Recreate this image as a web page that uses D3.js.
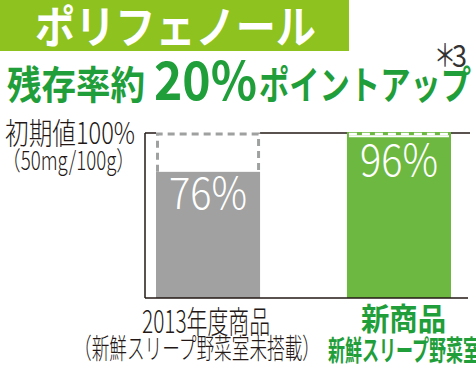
<!DOCTYPE html>
<html>
<head>
<meta charset="utf-8">
<script src="https://cdn.jsdelivr.net/npm/d3@7"></script>
<style>
  body { margin: 0; background: #fff; }
  svg { display: block; }
  text { font-family: "Noto Sans CJK JP", "Noto Sans", sans-serif; }
</style>
</head>
<body>
<svg id="canvas" width="476" height="365"></svg>
<script>
let categories = ['2013年度商品', '新商品'];
let subLabels = ['（新鮮スリープ野菜室未搭載）', '新鮮スリープ野菜室'];
let values = [76, 96];
let initialValue = 100;
let valueLabels = ['76%', '96%'];

let green = '#8dc21f';
let textGreen = '#1f9e3a';
let barColors = ['#a0a1a0', '#6cb840'];

let canvas = d3.select('#canvas');

let yScale = d3.scaleLinear().domain([0, 100]).range([298, 132]);
let xScale = d3.scaleBand().domain(categories).range([156, 451]).paddingInner(0.455).paddingOuter(0);

let addText = (str, x, y, size, weight, fill, len, family) => {
	let t = canvas.append('text')
		.text(str)
		.attr('x', x).attr('y', y)
		.attr('font-size', size)
		.attr('font-weight', weight)
		.attr('fill', fill)
		.attr('textLength', len)
		.attr('lengthAdjust', 'spacingAndGlyphs');
	if (family) t.attr('font-family', family);
	return t;
};

// title box
canvas.append('rect')
	.attr('x', 0).attr('y', 0)
	.attr('width', 349).attr('height', 51)
	.attr('fill', green);

addText('ポリフェノール', 35, 44, 45, 'bold', '#fff', 281);

// subtitle
addText('残存率約', 7, 99, 39, 'bold', textGreen, 138);
addText('20%', 154, 100, 53, 'bold', textGreen, 103, '"Noto Sans", sans-serif');
addText('ポイントアップ', 259, 99, 39, 'bold', textGreen, 212);
addText('＊', 434, 66, 31, 'normal', '#333', 22);
addText('3', 452, 67, 30, 'normal', '#333', 15, '"Noto Sans", sans-serif');

// y label
addText('初期値100%', 5, 144, 30, 300, '#231815', 130);
addText('（50mg/100g）', 2, 170, 26, 300, '#231815', 133);

// bars
canvas.selectAll('.bar')
	.data(values)
	.enter()
	.append('rect')
	.attr('class', 'bar')
	.attr('x', (v, i) => xScale(categories[i]))
	.attr('y', (v, i) => i === 1 ? yScale(initialValue) : yScale(v))
	.attr('width', xScale.bandwidth())
	.attr('height', (v, i) => yScale(0) - (i === 1 ? yScale(initialValue) : yScale(v)))
	.attr('fill', (v, i) => barColors[i]);

// axes
let axisX0 = 145;
let axisX1 = 470;
let topY = yScale(initialValue) + 1;
canvas.append('line')
	.attr('x1', axisX0).attr('x2', axisX0)
	.attr('y1', topY).attr('y2', yScale(0))
	.attr('stroke', '#231815').attr('stroke-width', 1.5);
canvas.append('line')
	.attr('x1', axisX0).attr('x2', 468)
	.attr('y1', yScale(0)).attr('y2', yScale(0))
	.attr('stroke', '#231815').attr('stroke-width', 1.5);

let topSegments = [
	[axisX0, xScale(categories[0])],
	[xScale(categories[0]) + xScale.bandwidth(), xScale(categories[1])],
	[xScale(categories[1]) + xScale.bandwidth(), axisX1]
];
canvas.selectAll('.topline')
	.data(topSegments)
	.enter()
	.append('line')
	.attr('x1', (s) => s[0]).attr('x2', (s) => s[1])
	.attr('y1', topY).attr('y2', topY)
	.attr('stroke', '#231815').attr('stroke-width', 1.5);

// 100% dashed outline, old product
let bx = xScale(categories[0]);
let bw = xScale.bandwidth();
canvas.append('path')
	.attr('d', 'M' + (bx + 1.5) + ',' + yScale(values[0]) + 'V' + (topY + 1) + 'H' + (bx + bw - 1.5) + 'V' + yScale(values[0]))
	.attr('fill', 'none')
	.attr('stroke', '#9fa0a0')
	.attr('stroke-width', 3)
	.attr('stroke-dasharray', '7,5');

// 100% dashed outline, new product
let gx = xScale(categories[1]);
canvas.append('line')
	.attr('x1', gx + 2).attr('x2', gx + bw - 2)
	.attr('y1', topY + 1).attr('y2', topY + 1)
	.attr('stroke', '#fff')
	.attr('stroke-width', 2.6)
	.attr('stroke-dasharray', '8,5');
canvas.append('line')
	.attr('x1', gx + 2).attr('x2', gx + bw - 2)
	.attr('y1', topY + 3.3).attr('y2', topY + 3.3)
	.attr('stroke', '#fff')
	.attr('stroke-width', 2);

// value labels
canvas.selectAll('.value')
	.data(values)
	.enter()
	.append('text')
	.attr('class', 'value')
	.text((v, i) => valueLabels[i])
	.attr('x', (v, i) => xScale(categories[i]) + bw / 2 - 39)
	.attr('y', (v, i) => yScale(v) + 37)
	.attr('font-family', '"Noto Sans", sans-serif')
	.attr('font-size', 44)
	.attr('font-weight', 300)
	.attr('fill', '#fff')
	.attr('textLength', 78)
	.attr('lengthAdjust', 'spacingAndGlyphs');

// category labels
addText(categories[0], 142, 333, 31, 300, '#231815', 128);
addText(subLabels[0], 74, 359, 28, 300, '#231815', 246);
addText(categories[1], 361, 330, 31, 'bold', textGreen, 85);
addText(subLabels[1], 328, 361, 28, 'bold', textGreen, 152);
</script>
</body>
</html>
